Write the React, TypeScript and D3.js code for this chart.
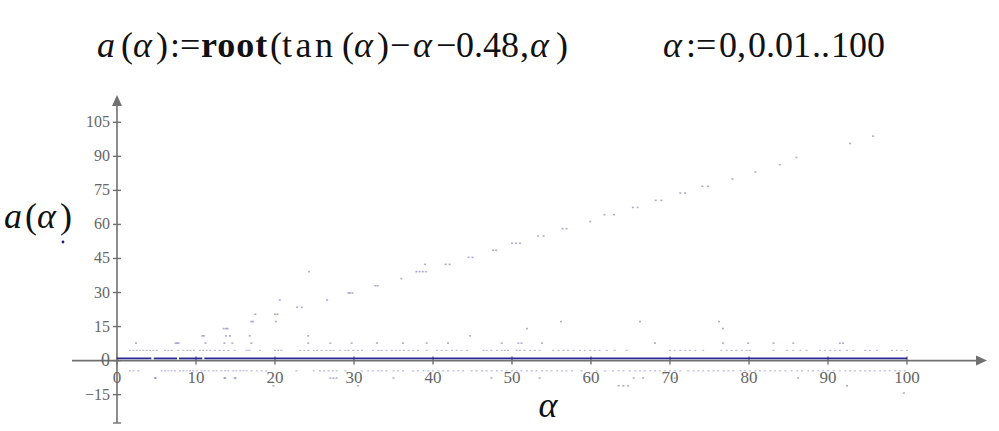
import React, { useEffect, useRef } from "react";
import * as d3 from "d3";

// tick labels
const alphaTicks = [0, 10, 20, 30, 40, 50, 60, 70, 80, 90, 100];
const valueTicks = [-15, 0, 15, 30, 45, 60, 75, 90, 105];

// the root most of the range converges to, drawn as the dense trace
const mainRootLevel = 0.96;
const mainSegments: [number, number][] = [
  [0, 4.35],
  [4.65, 7.6],
  [7.85, 10.8],
  [11.05, 100],
];

// row of points that converged to the root near 4.5
const upperRowLevel = 4.5;
const upperRowAlphas = [
  1.65, 2.07, 2.49, 2.91, 3.33, 3.76, 4.18, 4.6, 5.02, 6.08, 6.5, 6.92, 7.76, 8.4,
  8.9, 9.3, 9.75, 10.5, 10.9, 11.35, 11.8, 12.4, 13.0, 13.5, 14.1, 14.9, 16.4,
  16.75, 18.1, 20.0, 20.4, 20.8, 23.2, 23.7, 24.2, 24.9, 25.3, 25.9, 26.5, 27.0,
  27.4, 28.2, 28.9, 29.3, 29.9, 30.5, 31.0, 32.4, 33.1, 33.5, 34.1, 34.8, 35.3,
  35.8, 36.3, 36.9, 37.5, 38.1, 39.2, 40.5, 41.1, 41.7, 42.4, 43.0, 43.6, 44.3,
  46.4, 46.8, 47.4, 48.1, 48.7, 49.1, 49.5, 50.6, 51.0, 51.6, 52.3, 52.9, 53.5,
  55.2, 55.9, 56.5, 57.1, 57.8, 58.6, 59.2, 59.9, 60.5, 61.1, 62.0, 63.0, 64.5,
  70.0, 70.6, 71.3, 71.9, 72.5, 73.2, 74.2, 76.5, 77.2, 77.8, 78.4, 79.1, 79.7,
  80.1, 83.1, 84.8, 85.6, 86.5, 87.3, 89.0, 89.6, 90.3, 90.9, 91.5, 92.4, 93.2,
  94.7, 95.3, 96.2, 98.1, 98.7, 99.3, 100.0,
];

// row of points that converged to the negative root near -4.5
const lowerRowLevel = -4.5;
const lowerRowAlphas = [
  1.65, 2.07, 2.7, 5.65, 6.08, 6.5, 6.92, 7.34, 7.97, 8.4, 8.82, 9.24, 9.66, 10.1,
  10.7, 11.1, 11.6, 12.2, 12.6, 13.2, 13.7, 14.1, 14.7, 15.1, 15.6, 16.0, 16.4,
  17.0, 17.7, 18.3, 18.9, 22.7, 24.9, 25.7, 26.2, 26.8, 27.3, 27.8, 28.9, 31.0,
  31.8, 32.4, 33.1, 33.5, 34.1, 35.0, 35.6, 36.2, 37.5, 38.1, 38.8, 39.4, 40.0,
  40.7, 41.3, 41.9, 42.6, 43.2, 43.8, 44.9, 45.5, 46.2, 46.8, 47.4, 48.1, 48.7,
  49.3, 50.0, 50.6, 51.2, 51.9, 52.5, 53.1, 53.8, 54.4, 55.0, 55.7, 56.3, 56.9,
  57.6, 58.8, 60.7, 61.8, 62.8, 63.5, 64.1, 64.9, 65.6, 66.2, 66.8, 67.5, 68.1,
  68.7, 69.4, 70.0, 70.6, 71.3, 72.3, 73.0, 73.6, 74.2, 74.9, 75.5, 76.1, 76.8,
  77.4, 78.0, 78.9, 79.5, 80.1, 80.8, 81.4, 82.0, 82.7, 83.3, 83.9, 84.6, 85.4,
  86.1, 86.7, 87.5, 88.1, 88.8, 89.4, 90.0, 90.7, 91.5, 92.2, 92.8, 93.4, 94.1,
  94.7, 95.3, 95.9, 96.6, 97.2, 97.8, 98.5, 99.1, 99.7,
];

// isolated points [alpha, a(alpha)]
const scatterPoints: [number, number][] = [
  [2.4, 7.7], [7.4, 7.7], [7.6, 7.7], [7.8, 7.7], [11.2, 7.7], [13.6, 7.7],
  [14.6, 7.7], [17.0, 7.7], [24.2, 7.7], [27.0, 7.7], [29.7, 7.7], [32.9, 7.7],
  [36.2, 7.7], [39.2, 7.7], [41.9, 7.7], [48.7, 7.7], [50.8, 7.7], [51.2, 7.7],
  [53.8, 7.7], [68.1, 7.7], [76.7, 7.7], [79.9, 7.7], [83.1, 7.7], [85.6, 7.7],
  [91.5, 7.7], [91.9, 7.7],
  [10.8, 10.9], [11.0, 10.9], [13.8, 10.9], [14.3, 10.9], [16.8, 10.9], [24.2, 10.9],
  [44.7, 10.9],
  [13.5, 14.1], [13.8, 14.1], [14.0, 14.1], [51.9, 14.1], [76.7, 14.1],
  [17.0, 17.2], [17.2, 17.2], [20.1, 17.2], [56.2, 17.2], [66.2, 17.2], [76.2, 17.2],
  [17.5, 20.4], [20.0, 20.4], [20.3, 20.4],
  [22.8, 23.5], [23.4, 23.5],
  [20.6, 26.7], [26.6, 26.7],
  [29.3, 29.8], [29.5, 29.8], [29.8, 29.8],
  [32.7, 33.0], [33.0, 33.0],
  [36.0, 36.1],
  [24.3, 39.2], [37.9, 39.2], [38.3, 39.2], [38.7, 39.2], [39.1, 39.2],
  [39.0, 42.4], [41.6, 42.4], [42.1, 42.4],
  [44.5, 45.5], [45.0, 45.5],
  [47.6, 48.6], [48.0, 48.6],
  [50.0, 51.7], [50.5, 51.7], [51.0, 51.7],
  [53.3, 54.9], [54.0, 54.9],
  [56.4, 58.1], [56.9, 58.1],
  [59.9, 61.3],
  [61.7, 64.3], [62.9, 64.3],
  [65.3, 67.5], [65.9, 67.5],
  [68.2, 70.6], [68.9, 70.6],
  [71.3, 73.8], [71.9, 73.8],
  [74.1, 76.8], [74.8, 76.8],
  [77.9, 80.0],
  [80.8, 83.1],
  [83.9, 86.3],
  [86.0, 89.5],
  [92.8, 95.7],
  [95.7, 98.9],
  [4.8, -7.7], [4.9, -7.7], [13.6, -7.7], [13.7, -7.7], [14.9, -7.7], [15.0, -7.7],
  [27.0, -7.7], [27.4, -7.7], [27.8, -7.7], [35.0, -7.7], [47.4, -7.7], [53.5, -7.7],
  [65.4, -7.7], [66.6, -7.7], [70.6, -7.7], [86.2, -7.7],
  [19.8, -11.1], [30.5, -11.1], [63.5, -11.1], [64.1, -11.1], [64.7, -11.1], [92.4, -11.1],
  [99.6, -14.3],
];

const W = 999;
const H = 431;
const serif = "'Liberation Serif', 'DejaVu Serif', serif";
const axisColor = "#707070";
const labelColor = "#666666";
const traceColor = "#2b2b96";
const dotColor = "#7474bc";

// math header, piece by piece: [text, x, style, letter spacing]
type Piece = [string, number, "i" | "b" | "n", number?];
const titlePieces: Piece[] = [
  ["a", 97, "i"],
  ["(", 121, "n"],
  ["α", 133, "i"],
  [")", 156, "n"],
  [":=", 170, "n"],
  ["root", 201, "b", 1],
  ["(", 270, "n"],
  ["tan", 282, "n", 3.5],
  ["(", 342, "n"],
  ["α", 354, "i"],
  [")", 377, "n"],
  ["−", 390, "n"],
  ["α", 413, "i"],
  ["−", 436, "n"],
  ["0.48", 456, "n"],
  [",", 520, "n"],
  ["α", 530, "i"],
  [")", 556, "n"],
];
const rangePieces: Piece[] = [
  ["α", 663, "i"],
  [":=", 686, "n"],
  ["0", 719, "n"],
  [",", 737, "n"],
  ["0.01", 748, "n"],
  ["..", 812, "n"],
  ["100", 831, "n"],
];
const yTitlePieces: Piece[] = [
  ["a", 4, "i"],
  ["(", 25, "n"],
  ["α", 37, "i"],
  [")", 60, "n"],
];

const MathText = ({ pieces, y, size }: { pieces: Piece[]; y: number; size: number }) => (
  <text y={y} fontFamily={serif} fontSize={size} fill="#111">
    {pieces.map(([s, px, st, ls], i) => (
      <tspan
        key={i}
        x={px}
        fontStyle={st === "i" ? "italic" : "normal"}
        fontWeight={st === "b" ? "bold" : "normal"}
        letterSpacing={ls ?? 0}
      >
        {s}
      </tspan>
    ))}
  </text>
);

const App = () => {
  const svgRef = useRef<SVGSVGElement | null>(null);

  useEffect(() => {
    const svg = d3.select(svgRef.current);
    svg.selectAll("*").remove();

    const x = d3.scaleLinear().domain([0, 100]).range([117, 907]);
    const y = d3.scaleLinear().domain([0, 105]).range([360.6, 122.3]);

    const x0 = x(0);
    const y0 = y(0);

    // horizontal axis with arrow
    const axisG = svg.append("g");
    axisG
      .append("line")
      .attr("x1", 72)
      .attr("x2", 980)
      .attr("y1", y0)
      .attr("y2", y0)
      .attr("stroke", axisColor)
      .attr("stroke-width", 1.6);
    axisG
      .append("path")
      .attr("d", `M987,${y0} L976,${y0 - 5} L976,${y0 + 5} Z`)
      .attr("fill", axisColor);

    // vertical axis with arrow
    axisG
      .append("line")
      .attr("x1", x0)
      .attr("x2", x0)
      .attr("y1", 423)
      .attr("y2", 102)
      .attr("stroke", axisColor)
      .attr("stroke-width", 1.6);
    axisG
      .append("path")
      .attr("d", `M${x0},95 L${x0 - 5},106 L${x0 + 5},106 Z`)
      .attr("fill", axisColor);
    axisG
      .append("line")
      .attr("x1", x0 - 4)
      .attr("x2", x0 + 4)
      .attr("y1", 423)
      .attr("y2", 423)
      .attr("stroke", axisColor)
      .attr("stroke-width", 1.4);

    // x ticks + labels
    alphaTicks.forEach((t) => {
      axisG
        .append("line")
        .attr("x1", x(t))
        .attr("x2", x(t))
        .attr("y1", y0 - 4)
        .attr("y2", y0 + 4)
        .attr("stroke", axisColor)
        .attr("stroke-width", 1.4);
      axisG
        .append("text")
        .attr("x", x(t))
        .attr("y", y0 + 22)
        .attr("text-anchor", "middle")
        .attr("font-family", serif)
        .attr("font-size", 17)
        .attr("fill", labelColor)
        .text(t);
    });

    // y ticks + labels
    valueTicks.forEach((t) => {
      axisG
        .append("line")
        .attr("x1", x0 - 4)
        .attr("x2", x0 + 4)
        .attr("y1", y(t))
        .attr("y2", y(t))
        .attr("stroke", axisColor)
        .attr("stroke-width", 1.4);
      axisG
        .append("text")
        .attr("x", x0 - 7)
        .attr("y", y(t) + 5)
        .attr("text-anchor", "end")
        .attr("font-family", serif)
        .attr("font-size", t === 0 ? 18 : 16)
        .attr("fill", labelColor)
        .text(t < 0 ? `\u2212${Math.abs(t)}` : t);
    });

    // main trace
    const plot = svg.append("g");
    plot
      .selectAll(".seg")
      .data(mainSegments)
      .enter()
      .append("line")
      .attr("x1", (d) => x(d[0]))
      .attr("x2", (d) => x(d[1]))
      .attr("y1", y(mainRootLevel))
      .attr("y2", y(mainRootLevel))
      .attr("stroke", traceColor)
      .attr("stroke-width", 1.8);

    const rowDots = (alphas: number[], level: number) => {
      plot
        .append("g")
        .selectAll("rect")
        .data(alphas)
        .enter()
        .append("rect")
        .attr("x", (d) => x(d) - 1)
        .attr("y", y(level) - 0.6)
        .attr("width", 2)
        .attr("height", 1.2)
        .attr("fill", dotColor)
        .attr("opacity", 0.5);
    };
    rowDots(upperRowAlphas, upperRowLevel);
    rowDots(lowerRowAlphas, lowerRowLevel);

    plot
      .append("g")
      .selectAll("rect")
      .data(scatterPoints)
      .enter()
      .append("rect")
      .attr("x", (d) => x(d[0]) - 1)
      .attr("y", (d) => y(d[1]) - 0.8)
      .attr("width", 2)
      .attr("height", 1.6)
      .attr("fill", dotColor)
      .attr("opacity", 0.6);
  }, []);

  return (
    <div style={{ position: "absolute", left: 0, top: 0, width: W, height: H, background: "#fff" }}>
      <svg ref={svgRef} width={W} height={H} style={{ position: "absolute", left: 0, top: 0 }} />
      <svg width={W} height={H} style={{ position: "absolute", left: 0, top: 0, pointerEvents: "none" }}>
        <MathText pieces={titlePieces} y={57} size={36} />
        <MathText pieces={rangePieces} y={57} size={36} />
        <MathText pieces={yTitlePieces} y={228} size={36} />
        <circle cx={63} cy={242} r={1.4} fill="#1c1c8a" />
        <text x={548} y={417} textAnchor="middle" fontFamily={serif} fontStyle="italic" fontSize={36} fill="#111">
          α
        </text>
      </svg>
    </div>
  );
};

export default App;
